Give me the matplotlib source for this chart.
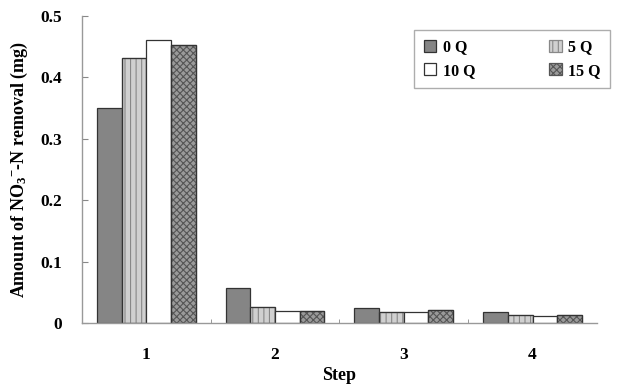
import numpy as np
import matplotlib
matplotlib.use('Agg')
import matplotlib.pyplot as plt
import matplotlib.ticker as ticker

plt.rcParams['font.family'] = ['Liberation Serif', 'DejaVu Serif']
plt.rcParams['font.weight'] = 'bold'
plt.rcParams['mathtext.fontset'] = 'custom'
plt.rcParams['mathtext.rm'] = 'Liberation Serif:bold'
plt.rcParams['mathtext.it'] = 'Liberation Serif:bold'
plt.rcParams['mathtext.bf'] = 'Liberation Serif:bold'
plt.rcParams['hatch.linewidth'] = 0.8

# Data
steps = ['1', '2', '3', '4']
series = ['0 Q', '5 Q', '10 Q', '15 Q']
q0 = [0.350, 0.057, 0.024, 0.018]
q5 = [0.431, 0.026, 0.018, 0.013]
q10 = [0.461, 0.020, 0.018, 0.012]
q15 = [0.452, 0.020, 0.021, 0.013]

fig, ax = plt.subplots(1, 1, figsize=(6.35, 3.87), dpi=100)
fig.subplots_adjust(left=0.129, right=0.940, bottom=0.165, top=0.959)

x = np.arange(1, len(steps) + 1)
w = 0.192
styles = [
    dict(facecolor='#858585', hatch=None),
    dict(facecolor='#d0d0d0', hatch='|||'),
    dict(facecolor='white', hatch=None),
    dict(facecolor='#9a9a9a', hatch='xxxxx'),
]
handles = []
for i, (vals, st) in enumerate(zip([q0, q5, q10, q15], styles)):
    b = ax.bar(x + (i - 1.5) * w, vals, width=w, facecolor=st['facecolor'],
               hatch=st['hatch'], edgecolor='#333333', linewidth=0.9, label=series[i])
    if st['hatch'] is not None:
        # hatch colour follows edgecolor, so redraw the outline on top
        for p in b:
            p.set_edgecolor('#888888' if st['hatch'] == '|||' else '#555555')
        ax.bar(x + (i - 1.5) * w, vals, width=w, facecolor='none',
               edgecolor='#333333', linewidth=0.9)
    handles.append(b)

ax.set_xlim(0.5, 4.5)
ax.set_ylim(0, 0.5)
ax.set_xticks(x)
ax.set_xticklabels(steps)
ax.xaxis.set_minor_locator(ticker.FixedLocator([1.5, 2.5, 3.5]))
ax.tick_params(axis='x', which='major', length=0, pad=17, labelsize=12.5)
ax.tick_params(axis='x', which='minor', direction='in', length=3, color='#888888')
ax.set_yticks([0, 0.1, 0.2, 0.3, 0.4, 0.5])
ax.yaxis.set_major_formatter(ticker.FuncFormatter(lambda v, p: '0' if v == 0 else '%.1f' % v))
ax.tick_params(axis='y', direction='in', length=4, color='#888888', labelsize=12.5, pad=14)

for s in ['top', 'right']:
    ax.spines[s].set_visible(False)
for s in ['left', 'bottom']:
    ax.spines[s].set_color('#999999')
    ax.spines[s].set_linewidth(1.0)

ax.set_xlabel('Step', fontsize=13, fontweight='bold', labelpad=3)
ax.set_ylabel('Amount of NO$_3$$^{-}$-N removal (mg)', fontsize=13, fontweight='bold', labelpad=8)

order = [0, 2, 1, 3]
leg = ax.legend([handles[k] for k in order], [series[k] for k in order], ncol=2,
                loc='upper right', bbox_to_anchor=(610 / 635, 1 - 30 / 387),
                bbox_transform=fig.transFigure, borderaxespad=0, fontsize=11.5,
                frameon=True, fancybox=False, edgecolor='#999999',
                handlelength=0.8, handleheight=0.8, handletextpad=0.4,
                columnspacing=4.6, borderpad=0.6, labelspacing=0.45)
leg.get_frame().set_linewidth(1.0)

fig.savefig('out.png', dpi=100)
